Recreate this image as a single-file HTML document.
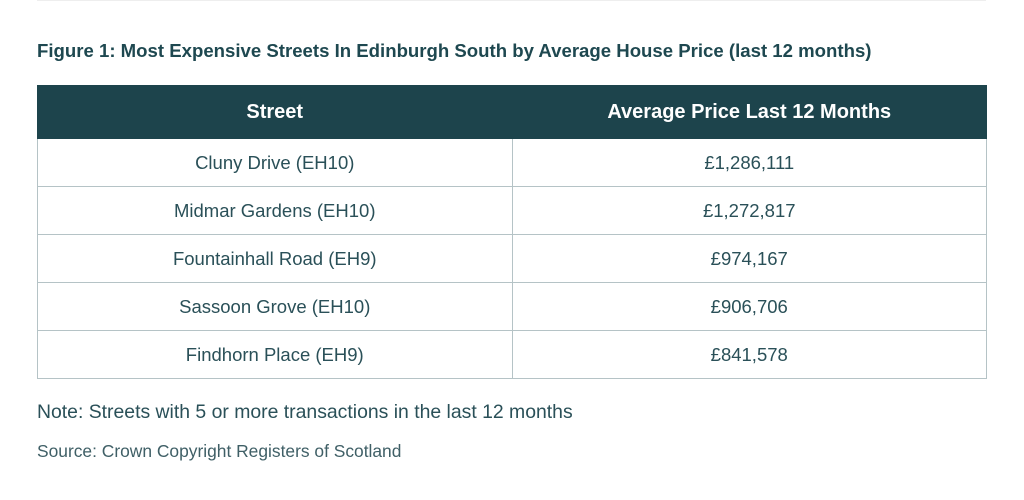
<!DOCTYPE html>
<html><head><style>
body{margin:0;width:1024px;height:500px;background:#fff;font-family:"Liberation Sans",sans-serif;color:#1f4a52;position:relative;overflow:hidden}
.top{position:absolute;left:37px;top:0;width:949px;height:1px;background:#eeeeee}
h1{position:absolute;left:37px;top:40px;margin:0;font-size:18.6px;font-weight:bold;color:#1e4850;white-space:nowrap}
table{position:absolute;left:37px;top:85px;width:950px;border-collapse:collapse}
th{background:#1d444c;color:#fff;height:52px;font-size:20px;font-weight:bold;padding:0;border:1px solid #1d444c}
td{height:47px;border:1px solid #b5c3c6;text-align:center;font-size:18.5px;padding:0;color:#2a5058}
th,td{width:50%}
.n{position:absolute;left:37px;top:401px;font-size:19.4px;color:#2a5058}
.s{position:absolute;left:37px;top:441px;font-size:17.4px;color:#3f5f66}
</style></head><body>
<div class="top"></div>
<h1>Figure 1: Most Expensive Streets In Edinburgh South by Average House Price (last 12 months)</h1>
<table>
<tr><th>Street</th><th>Average Price Last 12 Months</th></tr>
<tr><td>Cluny Drive (EH10)</td><td>£1,286,111</td></tr>
<tr><td>Midmar Gardens (EH10)</td><td>£1,272,817</td></tr>
<tr><td>Fountainhall Road (EH9)</td><td>£974,167</td></tr>
<tr><td>Sassoon Grove (EH10)</td><td>£906,706</td></tr>
<tr><td>Findhorn Place (EH9)</td><td>£841,578</td></tr>
</table>
<div class="n">Note: Streets with 5 or more transactions in the last 12 months</div>
<div class="s">Source: Crown Copyright Registers of Scotland</div>
</body></html>
